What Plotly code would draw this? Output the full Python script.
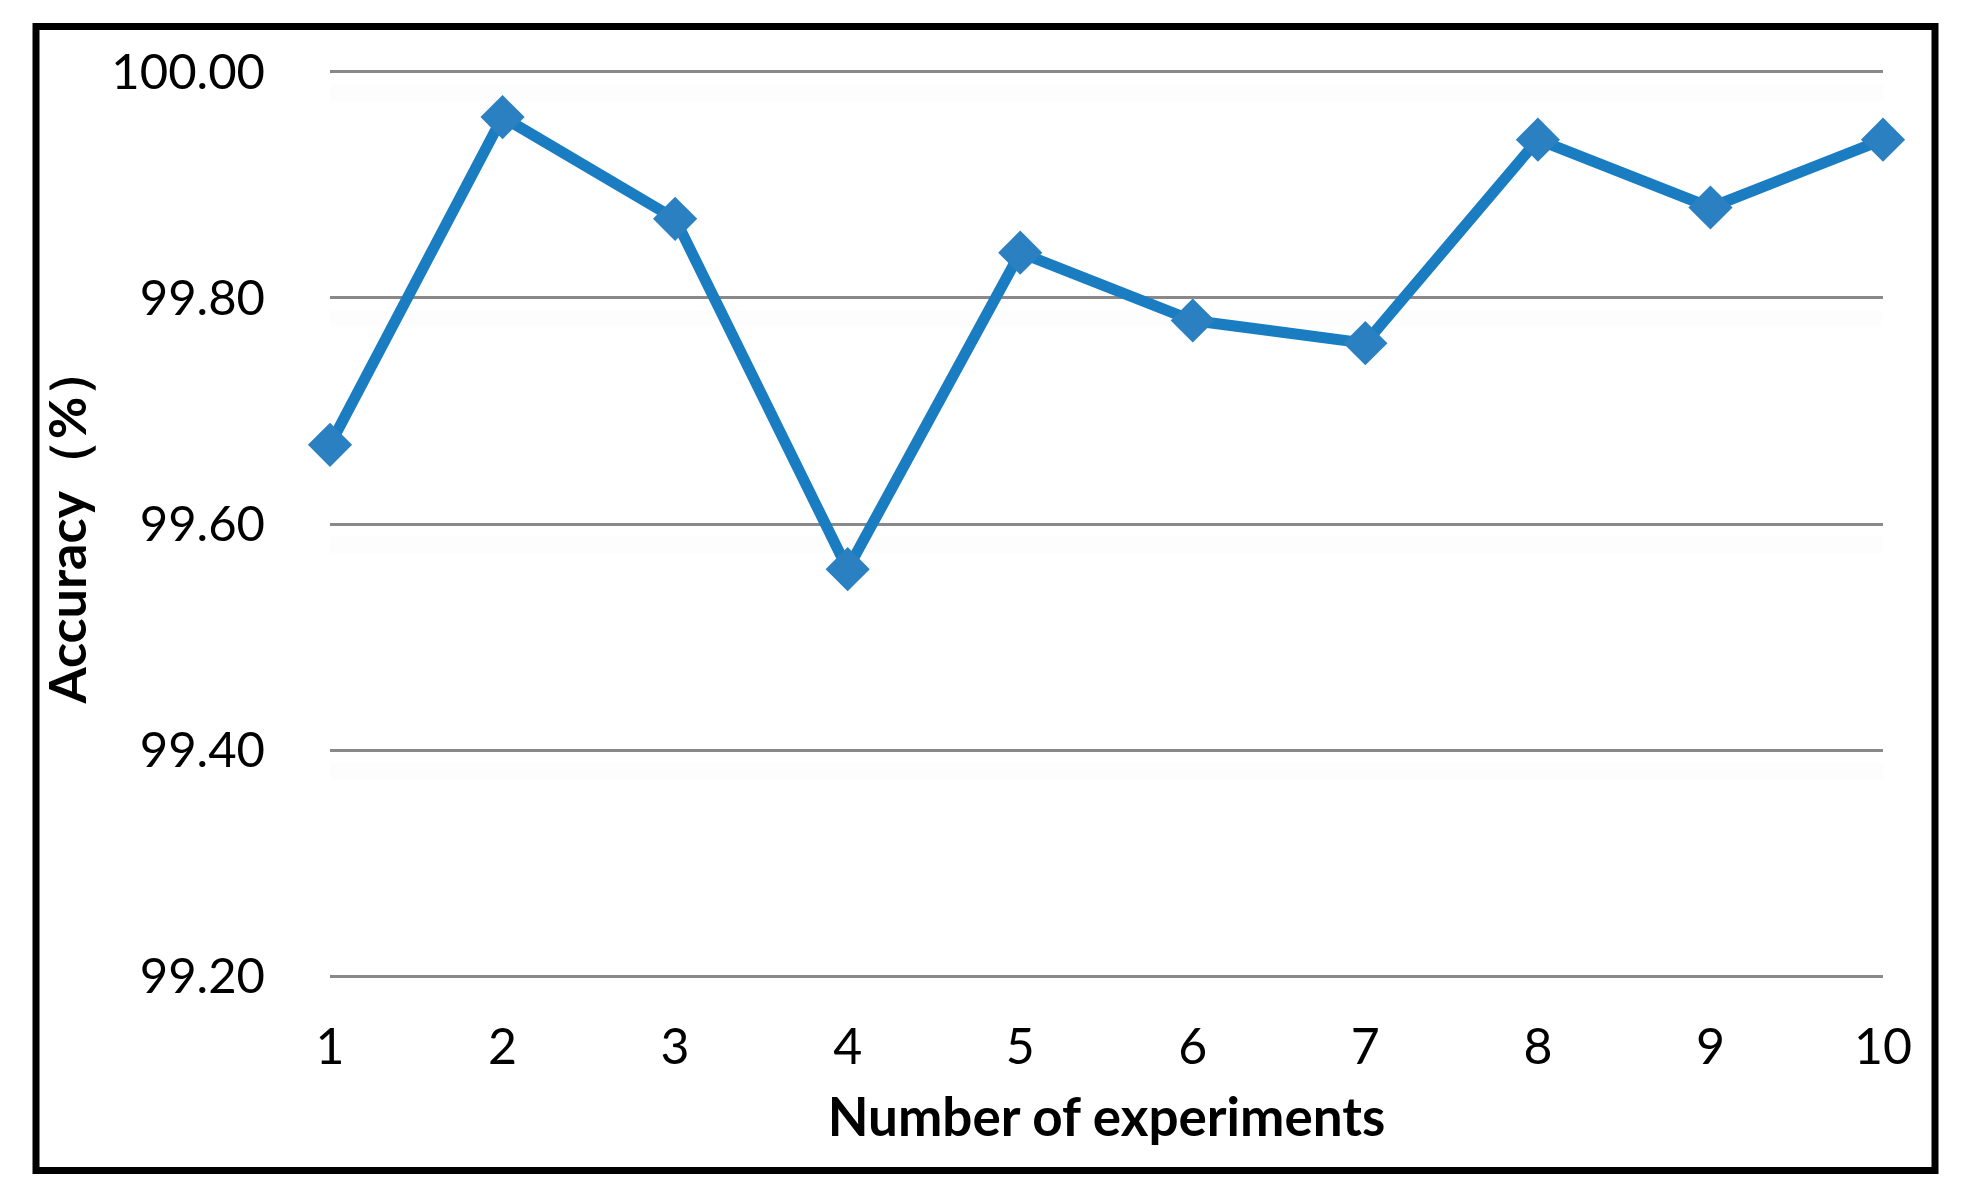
import plotly.graph_objects as go

experiments = [1, 2, 3, 4, 5, 6, 7, 8, 9, 10]
accuracy = [99.67, 99.96, 99.87, 99.56, 99.84, 99.78, 99.76, 99.94, 99.88, 99.94]
y_ticks = [99.20, 99.40, 99.60, 99.80, 100.00]
y_tick_labels = ["99.20", "99.40", "99.60", "99.80", "100.00"]

W, H = 1968, 1201
L, R, T, B = 330, 85, 69, 222
pw, ph = W - L - R, H - T - B

FONT = "Lato, 'Open Sans', 'Liberation Sans', sans-serif"

fig = go.Figure()
fig.add_trace(go.Scatter(
    x=experiments, y=accuracy, mode="lines+markers",
    line=dict(color="#1a7dc2", width=11),
    marker=dict(symbol="diamond", size=34, color="#2a80c0", line=dict(width=0)),
    showlegend=False, cliponaxis=False, hoverinfo="skip",
))

shapes = []
# faint shadow bands under gridlines
for v in y_ticks:
    shapes.append(dict(type="rect", xref="x", yref="y", x0=experiments[0], x1=experiments[-1],
                       y0=v - 0.026, y1=v - 0.011, fillcolor="rgba(0,0,0,0.007)",
                       line=dict(width=0), layer="below"))

def px_x(p):
    return (p - L) / pw

def px_y(p):
    return (H - B - p) / ph

shapes.append(dict(type="rect", xref="paper", yref="paper",
                   x0=px_x(36), x1=px_x(1935), y0=px_y(1170.5), y1=px_y(26.5),
                   line=dict(color="black", width=7), fillcolor="rgba(0,0,0,0)", layer="above"))

eps = 0.0025
fig.update_layout(
    width=W, height=H,
    margin=dict(l=L, r=R, t=T, b=B, pad=0),
    paper_bgcolor="white", plot_bgcolor="white",
    font=dict(family=FONT, color="black", size=48),
    shapes=shapes,
    xaxis=dict(
        range=[experiments[0], experiments[-1]],
        tickmode="array", tickvals=experiments, ticktext=[str(e) for e in experiments],
        showgrid=False, zeroline=False, showline=False, ticks="",
        tickfont=dict(size=50, family=FONT), ticklabelstandoff=34,
        title=dict(text="<b>Number of experiments</b>", font=dict(size=53, family=FONT), standoff=24),
        automargin=False,
    ),
    yaxis=dict(
        range=[y_ticks[0] - eps, y_ticks[-1] + eps],
        tickmode="array", tickvals=y_ticks, ticktext=y_tick_labels,
        showgrid=True, gridcolor="#898989", gridwidth=2.5,
        zeroline=False, showline=False, ticks="",
        tickfont=dict(size=49, family=FONT), ticklabelstandoff=64,
        title=dict(text="<b>Accuracy（%）</b>", font=dict(size=52, family=FONT), standoff=8),
        automargin=False,
    ),
)

fig.write_html("out.html", config={"displayModeBar": False},
               post_script="document.body.style.margin='0px';document.body.style.overflow='hidden';")
